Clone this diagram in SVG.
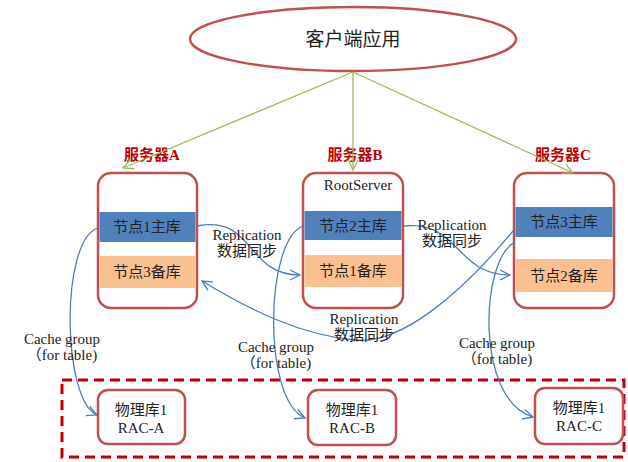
<svg xmlns="http://www.w3.org/2000/svg" width="628" height="462" viewBox="0 0 628 462">
<defs>
<marker id="ab" markerUnits="userSpaceOnUse" markerWidth="14" markerHeight="14" refX="11" refY="6" orient="auto">
<path d="M1,1 L11,6 L1,11" fill="none" stroke="#4a7ebb" stroke-width="1.3"/>
</marker>
<marker id="ag" markerUnits="userSpaceOnUse" markerWidth="14" markerHeight="14" refX="11" refY="6" orient="auto">
<path d="M1,1 L11,6 L1,11" fill="none" stroke="#9bbb59" stroke-width="1.3"/>
</marker>
<style>
.box{fill:#fff;stroke:#c0504d;stroke-width:2.5}
.pri{fill:#4f81bd}
.bak{fill:#fac090}
text{font-family:'Liberation Serif','Times New Roman','Noto Sans CJK SC',serif}
.t{font-size:15px;fill:#222;text-anchor:middle}
.srv{font-size:15px;font-weight:bold;fill:#c00000;text-anchor:middle}
.b{fill:none;stroke:#4a7ebb;stroke-width:1.3;marker-end:url(#ab)}
.g{fill:none;stroke:#9bbb59;stroke-width:1.3;marker-end:url(#ag)}
</style>
</defs>
<rect x="62" y="380" width="562" height="77" fill="none" stroke="#c00000" stroke-width="3" stroke-dasharray="10,6"/>
<g id="client">
<ellipse cx="353" cy="39" rx="163" ry="32" fill="#fff" stroke="#c0504d" stroke-width="2.5"/>
<text class="t" x="353" y="46" style="font-size:19px">客户端应用</text>
</g>
<g id="serverA">
<text class="srv" x="152" y="160">服务器A</text>
<rect class="box" x="98" y="173" width="99" height="135" rx="13"/>
<rect class="pri" x="99.5" y="212" width="96" height="30"/>
<text class="t" x="147" y="232">节点1主库</text>
<rect class="bak" x="99.5" y="256" width="96" height="32"/>
<text class="t" x="147" y="277">节点3备库</text>
</g>
<g id="serverB">
<text class="srv" x="355" y="160">服务器B</text>
<rect class="box" x="303" y="173" width="100" height="135" rx="13"/>
<text class="t" x="358" y="190">RootServer</text>
<rect class="pri" x="304.5" y="211" width="97" height="29"/>
<text class="t" x="353" y="231">节点2主库</text>
<rect class="bak" x="304.5" y="255" width="97" height="32"/>
<text class="t" x="353" y="276">节点1备库</text>
</g>
<g id="serverC">
<text class="srv" x="563" y="160">服务器C</text>
<rect class="box" x="514" y="173" width="100" height="135" rx="13"/>
<rect class="pri" x="515.5" y="207" width="97" height="30"/>
<text class="t" x="564" y="227">节点3主库</text>
<rect class="bak" x="515.5" y="259" width="97" height="33"/>
<text class="t" x="564" y="281">节点2备库</text>
</g>
<g id="racA">
<rect class="box" x="98" y="390" width="87" height="54" rx="10"/>
<text class="t" x="141" y="415">物理库1</text>
<text class="t" x="141" y="433">RAC-A</text>
</g>
<g id="racB">
<rect class="box" x="308" y="390" width="88" height="55" rx="10"/>
<text class="t" x="352" y="415">物理库1</text>
<text class="t" x="352" y="433">RAC-B</text>
</g>
<g id="racC">
<rect class="box" x="535" y="388" width="88" height="56" rx="10"/>
<text class="t" x="579" y="413">物理库1</text>
<text class="t" x="579" y="431">RAC-C</text>
</g>
<g id="connectors">
<path class="g" d="M353,72 L123,168"/>
<path class="g" d="M353,72 L353,170"/>
<path class="g" d="M353,72 L573,173"/>
<path class="b" d="M197,226 C255,215 245,275 300,275"/>
<path class="b" d="M403,226 C460,220 455,275 510,275"/>
<path class="b" d="M513,231 C460,295 400,345 355,340 C300,335 250,310 202,281"/>
<path class="b" d="M98,228 C60,240 62,400 97,415"/>
<path class="b" d="M303,226 C265,240 262,400 305,418"/>
<path class="b" d="M515,242 C480,260 475,400 533,417"/>
</g>
<g id="labels">
<text class="t" x="247" y="240">Replication</text>
<text class="t" x="247" y="256">数据同步</text>
<text class="t" x="452" y="230">Replication</text>
<text class="t" x="452" y="246">数据同步</text>
<text class="t" x="364" y="324">Replication</text>
<text class="t" x="364" y="340">数据同步</text>
<text class="t" x="62" y="344">Cache group</text>
<text class="t" x="62" y="360">（for table)</text>
<text class="t" x="276" y="352">Cache group</text>
<text class="t" x="276" y="368">（for table)</text>
<text class="t" x="497" y="348">Cache group</text>
<text class="t" x="497" y="364">（for table)</text>
</g>
</svg>
